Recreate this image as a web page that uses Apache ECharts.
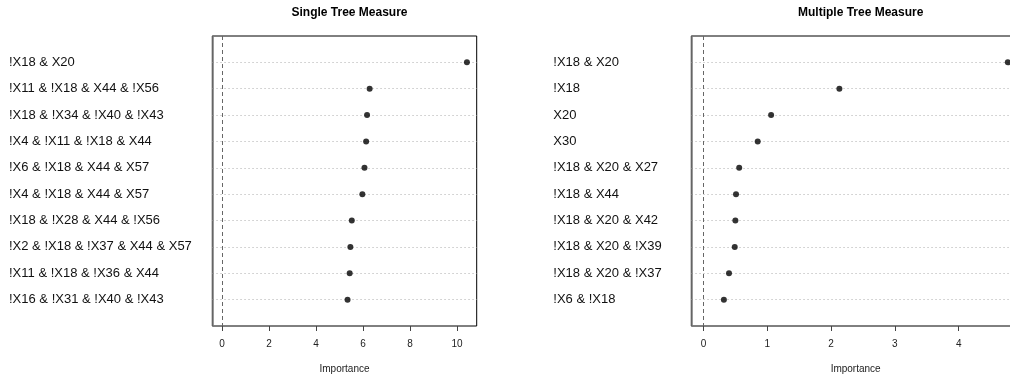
<!DOCTYPE html>
<html>
<head>
<meta charset="utf-8">
<script src="https://cdn.jsdelivr.net/npm/echarts@6/dist/echarts.min.js"></script>
<style>html,body{margin:0;padding:0;background:#fff;}#c{width:1010px;height:376px;}</style>
</head>
<body>
<div id="c"></div>
<script>
const singleLabels = ['!X18 & X20','!X11 & !X18 & X44 & !X56','!X18 & !X34 & !X40 & !X43','!X4 & !X11 & !X18 & X44','!X6 & !X18 & X44 & X57','!X4 & !X18 & X44 & X57','!X18 & !X28 & X44 & !X56','!X2 & !X18 & !X37 & X44 & X57','!X11 & !X18 & !X36 & X44','!X16 & !X31 & !X40 & !X43'];
const singleValues = [10.42, 6.28, 6.17, 6.13, 6.06, 5.97, 5.52, 5.46, 5.43, 5.34];
const multiLabels = ['!X18 & X20','!X18','X20','X30','!X18 & X20 & X27','!X18 & X44','!X18 & X20 & X42','!X18 & X20 & !X39','!X18 & X20 & !X37','!X6 & !X18'];
const multiValues = [4.77, 2.13, 1.06, 0.85, 0.56, 0.51, 0.50, 0.49, 0.40, 0.32];
const singleTicks = [0, 2, 4, 6, 8, 10];
const multiTicks = [0, 1, 2, 3, 4];

// R-style 4% axis expansion around [0, max]
function rangeOf(vals){ const mx = Math.max.apply(null, vals); const d = mx * 0.04; return [-d, mx + d]; }
const r1 = rangeOf(singleValues), r2 = rangeOf(multiValues);
// padded categories: empty slot at each end so rows sit at 1..n of [0, n+1]
const cats1 = [''].concat(singleLabels, ['']);
const cats2 = [''].concat(multiLabels, ['']);

const font = 'Liberation Sans, Arial, Helvetica, sans-serif';
function xAxis(gi, r, ticks){
  return {
    type:'value', gridIndex:gi, min:r[0], max:r[1],
    axisLine:{show:false, onZero:false},
    splitLine:{show:false},
    axisTick:{show:true, length:5, customValues:ticks, lineStyle:{color:'#444'}},
    axisLabel:{show:true, customValues:ticks, fontSize:10, color:'#222', margin:13, fontFamily:font},
    name:'Importance', nameLocation:'middle', nameGap:38,
    nameTextStyle:{fontSize:10, color:'#222', fontFamily:font}
  };
}
function yAxis(gi, cats, margin){
  const n = cats.length;
  return {
    type:'category', gridIndex:gi, data:cats, inverse:true, boundaryGap:false,
    axisLine:{show:true, onZero:false, lineStyle:{color:'#777', width:1.5}},
    axisTick:{show:false},
    axisLabel:{show:true, align:'left', margin:margin, fontSize:13, color:'#111', fontFamily:font, interval:0},
    splitLine:{show:true, interval:function(idx){ return idx > 0 && idx < n - 1; },
      lineStyle:{color:'#c8c8c8', type:[1.5,2.5], width:1}}
  };
}
function series(gi, labels, vals){
  return {
    type:'scatter', xAxisIndex:gi, yAxisIndex:gi,
    data: vals.map((v,i)=>[v, labels[i]]),
    symbol:'circle', symbolSize:6, itemStyle:{color:'#000'},
    silent:true, clip:false, z:5,
    markLine:{silent:true, symbol:'none', label:{show:false},
      lineStyle:{color:'#666', type:[4,3], width:1},
      data:[{xAxis:0}]}
  };
}
const chart = echarts.init(document.getElementById('c'), null, {renderer:'canvas'});
chart.setOption({
  animation:false,
  backgroundColor:'#fff',
  title:[
    {text:'Single Tree Measure', left:344.5, top:2, textAlign:'center', textStyle:{fontSize:12, fontWeight:'bold', color:'#000', fontFamily:font}},
    {text:'Multiple Tree Measure', left:855.7, top:2, textAlign:'center', textStyle:{fontSize:12, fontWeight:'bold', color:'#000', fontFamily:font}}
  ],
  grid:[
    {left:212.3, top:36, width:264.4, height:290, show:true, borderColor:'#000', borderWidth:1, backgroundColor:'transparent', containLabel:false, outerBoundsMode:'none'},
    {left:691.3, top:36, width:328.7, height:290, show:true, borderColor:'#000', borderWidth:1, backgroundColor:'transparent', containLabel:false, outerBoundsMode:'none'}
  ],
  xAxis:[xAxis(0, r1, singleTicks), xAxis(1, r2, multiTicks)],
  yAxis:[yAxis(0, cats1, 203.3), yAxis(1, cats2, 138)],
  series:[series(0, singleLabels, singleValues), series(1, multiLabels, multiValues)]
});
</script>
</body>
</html>
